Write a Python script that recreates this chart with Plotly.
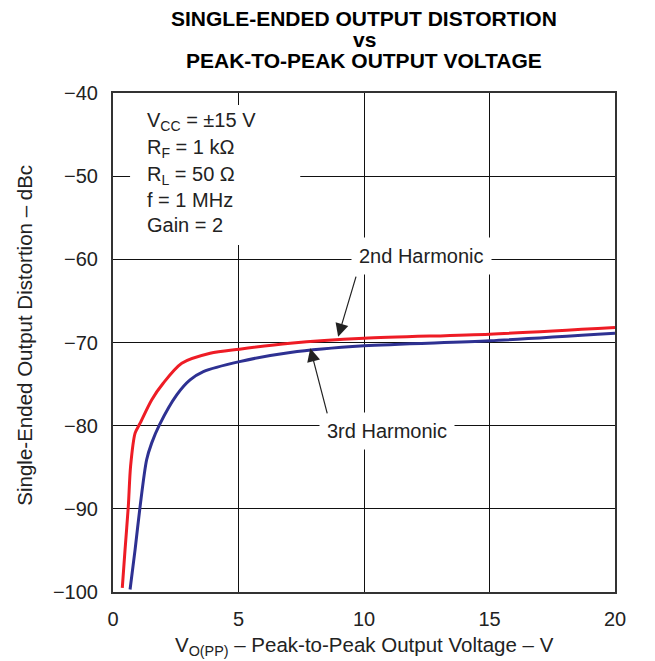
import plotly.graph_objects as go

# 2nd harmonic (red)
h2_v = [0.37, 0.48, 0.61, 0.70, 0.88, 1.08, 1.54, 2.0, 2.74, 3.87, 5.04, 7.06, 10.0, 15.0, 20.0]
h2_db = [-99.5, -94.9, -89.7, -84.9, -80.9, -79.7, -76.9, -74.9, -72.5, -71.3, -70.8, -70.1, -69.5, -69.0, -68.2]

# 3rd harmonic (blue)
h3_v = [0.68, 0.88, 1.08, 1.34, 1.54, 1.85, 2.54, 3.07, 3.6, 5.04, 7.06, 10.0, 15.0, 20.0]
h3_db = [-99.7, -94.9, -89.7, -84.1, -82.1, -79.9, -76.3, -74.5, -73.5, -72.3, -71.2, -70.4, -69.8, -68.9]

x_ticks = [0, 5, 10, 15, 20]
y_ticks = [-40, -50, -60, -70, -80, -90, -100]

title_lines = ["SINGLE-ENDED OUTPUT DISTORTION", "vs", "PEAK-TO-PEAK OUTPUT VOLTAGE"]
title_y = [1.1503, 1.1082, 1.0661]

conditions = ["V<sub>CC</sub> = ±15 V", "R<sub>F</sub> = 1 kΩ", "R<sub>L</sub> = 50 Ω",
              "f = 1 MHz", "Gain = 2"]
cond_y = [-43.45, -46.65, -49.86, -52.86, -55.87]

FONT = "Liberation Sans, Arial, Helvetica, sans-serif"
TXT = "#222"

fig = go.Figure()
fig.add_trace(go.Scatter(x=h2_v, y=h2_db, mode="lines", name="2nd Harmonic",
                         line=dict(color="#EE1C25", width=3, shape="spline", smoothing=0.8)))
fig.add_trace(go.Scatter(x=h3_v, y=h3_db, mode="lines", name="3rd Harmonic",
                         line=dict(color="#2E3192", width=3, shape="spline", smoothing=0.8)))

# white box behind the conditions text
fig.add_shape(type="rect", xref="x", yref="y", x0=0.68, x1=7.46, y0=-58.27, y1=-41.44,
              fillcolor="white", line=dict(width=0), layer="above")

for t, yy in zip(conditions, cond_y):
    fig.add_annotation(x=1.28, y=yy, xref="x", yref="y", text=t, showarrow=False,
                       xanchor="left", yanchor="middle", font=dict(size=20, color=TXT))

# harmonic labels
fig.add_annotation(x=12.29, y=-59.6, xref="x", yref="y", text="2nd Harmonic", showarrow=False,
                   bgcolor="white", borderpad=7, font=dict(size=20, color=TXT))
fig.add_annotation(x=10.93, y=-80.6, xref="x", yref="y", text="3rd Harmonic", showarrow=False,
                   bgcolor="white", borderpad=7, font=dict(size=20, color=TXT))

# arrows
fig.add_annotation(x=8.97, y=-69.3, ax=9.7, ay=-61.9, xref="x", yref="y", axref="x", ayref="y",
                   text="", showarrow=True, arrowhead=2, arrowsize=2.2, arrowwidth=1.2,
                   arrowcolor=TXT)
fig.add_annotation(x=7.86, y=-70.7, ax=8.55, ay=-78.7, xref="x", yref="y", axref="x", ayref="y",
                   text="", showarrow=True, arrowhead=2, arrowsize=2.2, arrowwidth=1.2,
                   arrowcolor=TXT)

# title lines
for t, yy in zip(title_lines, title_y):
    fig.add_annotation(x=0.5, y=yy, xref="paper", yref="paper", text="<b>" + t + "</b>",
                       showarrow=False, xanchor="center", yanchor="middle",
                       font=dict(size=21, color="black"))

# axis titles
fig.add_annotation(x=0.5, y=-0.108, xref="paper", yref="paper",
                   text="V<sub>O(PP)</sub> – Peak-to-Peak Output Voltage – V", showarrow=False,
                   xanchor="center", yanchor="middle", font=dict(size=20.5, color=TXT))
fig.add_annotation(x=-0.178, y=0.515, xref="paper", yref="paper", textangle=-90,
                   text="Single-Ended Output Distortion – dBc", showarrow=False,
                   xanchor="center", yanchor="middle", font=dict(size=20.5, color=TXT))

# page body has an 8 px margin, so the figure is 8 px smaller and margins shifted
fig.update_layout(
    width=647, height=653,
    margin=dict(l=105, r=40, t=85, b=69),
    paper_bgcolor="white", plot_bgcolor="white",
    font=dict(family=FONT, size=20, color=TXT),
    showlegend=False,
)
fig.update_xaxes(range=[0, 20], tickvals=x_ticks, showgrid=True, gridcolor="#111", gridwidth=1,
                 showline=True, linecolor="#333", linewidth=2, mirror=True, zeroline=False,
                 ticks="", ticklabelstandoff=8, automargin=False, tickfont=dict(size=20))
fig.update_yaxes(range=[-100, -40], tickvals=y_ticks, showgrid=True, gridcolor="#111", gridwidth=1,
                 showline=True, linecolor="#333", linewidth=2, mirror=True, zeroline=False,
                 ticks="", ticklabelstandoff=9, automargin=False, tickfont=dict(size=20))

fig.write_html("out.html")
